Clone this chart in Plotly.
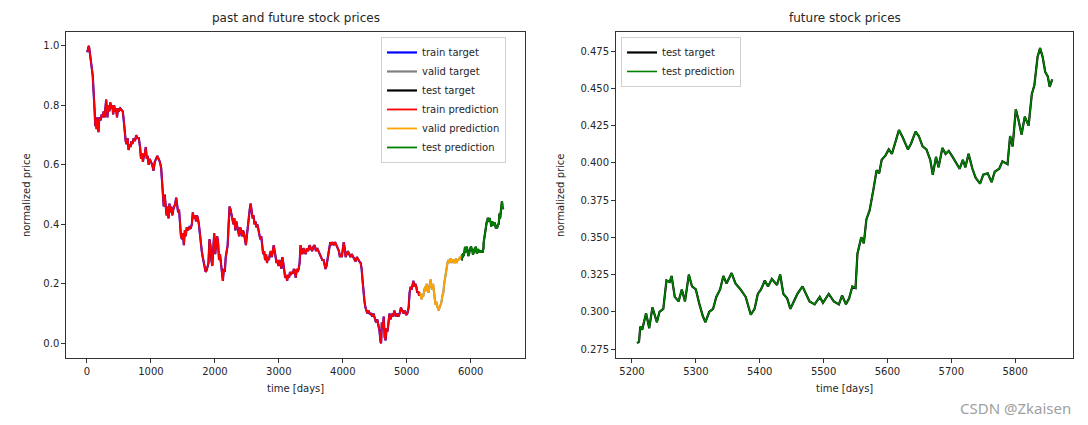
import plotly.graph_objects as go

# ---------------- data ----------------
train_days = [0, 10, 20, 30, 40, 55, 70, 80, 90, 100, 110, 120, 130, 140, 150, 160, 170, 180, 190, 200,
              215, 230, 245, 260, 275, 290, 300, 310, 320, 335, 350, 365, 380, 395, 410, 425, 440, 455, 470, 485,
              500, 520, 540, 560, 575, 590, 605, 620, 635, 650, 665, 680, 695, 710, 730, 750, 770, 790, 810, 830,
              845, 860, 875, 890, 905, 920, 935, 950, 965, 980, 1000, 1020, 1040, 1060, 1080, 1100, 1120, 1140, 1160, 1175,
              1190, 1200, 1215, 1230, 1245, 1260, 1275, 1290, 1305, 1320, 1335, 1350, 1365, 1380, 1395, 1410, 1425, 1440, 1455, 1470,
              1485, 1500, 1515, 1530, 1545, 1560, 1580, 1600, 1620, 1640, 1655, 1670, 1690, 1705, 1720, 1735, 1750, 1765, 1780, 1795,
              1810, 1825, 1840, 1855, 1870, 1885, 1900, 1915, 1930, 1945, 1960, 1975, 1990, 2005, 2020, 2035, 2050, 2065, 2080, 2095,
              2110, 2125, 2140, 2155, 2170, 2185, 2200, 2215, 2230, 2245, 2260, 2275, 2290, 2305, 2320, 2335, 2350, 2365, 2380, 2395,
              2410, 2425, 2440, 2455, 2470, 2485, 2500, 2515, 2530, 2545, 2560, 2575, 2590, 2605, 2620, 2635, 2650, 2665, 2680, 2695,
              2710, 2725, 2740, 2755, 2770, 2785, 2800, 2815, 2830, 2845, 2860, 2875, 2890, 2905, 2920, 2935, 2950, 2965, 2980, 2995,
              3010, 3025, 3040, 3055, 3070, 3085, 3100, 3115, 3130, 3145, 3160, 3175, 3190, 3205, 3220, 3235, 3250, 3265, 3280, 3295,
              3310, 3325, 3340, 3355, 3370, 3385, 3400, 3420, 3440, 3460, 3480, 3500, 3520, 3540, 3560, 3580, 3600, 3620, 3640, 3660,
              3680, 3700, 3715, 3730, 3745, 3760, 3775, 3790, 3805, 3820, 3840, 3860, 3880, 3900, 3920, 3940, 3955, 3970, 3985, 4000,
              4015, 4030, 4045, 4060, 4080, 4100, 4120, 4140, 4160, 4180, 4200, 4220, 4240, 4260, 4280, 4295, 4310, 4325, 4340, 4355,
              4370, 4385, 4400, 4420, 4440, 4460, 4480, 4500, 4520, 4540, 4560, 4575, 4590, 4600, 4610, 4625, 4640, 4655, 4670, 4685,
              4700, 4715, 4730, 4745, 4760, 4775, 4790, 4805, 4820, 4835, 4850, 4870, 4890, 4910, 4930, 4950, 4970, 4990, 5010, 5030,
              5045, 5060, 5075, 5090, 5105, 5120, 5135, 5150, 5165, 5180, 5195, 5207]
train_values = [0.985, 0.98, 0.995, 1.0, 0.985, 0.96, 0.93, 0.91, 0.90, 0.86, 0.83, 0.78, 0.73, 0.75, 0.72, 0.76, 0.74, 0.71, 0.75, 0.76,
                0.75, 0.77, 0.76, 0.78, 0.76, 0.80, 0.82, 0.79, 0.76, 0.80, 0.78, 0.81, 0.79, 0.80, 0.77, 0.80, 0.78, 0.79, 0.76, 0.79,
                0.78, 0.79, 0.785, 0.78, 0.75, 0.70, 0.68, 0.67, 0.69, 0.65, 0.67, 0.66, 0.68, 0.67, 0.69, 0.68, 0.70, 0.69, 0.69, 0.66,
                0.62, 0.64, 0.61, 0.63, 0.64, 0.66, 0.62, 0.63, 0.60, 0.62, 0.61, 0.60, 0.58, 0.61, 0.62, 0.63, 0.62, 0.61, 0.59, 0.55,
                0.50, 0.46, 0.50, 0.45, 0.43, 0.46, 0.42, 0.47, 0.44, 0.46, 0.43, 0.45, 0.46, 0.47, 0.49, 0.46, 0.44, 0.45, 0.40, 0.36,
                0.35, 0.37, 0.33, 0.38, 0.36, 0.39, 0.38, 0.39, 0.385, 0.40, 0.44, 0.42, 0.43, 0.41, 0.43, 0.42, 0.40, 0.36, 0.33, 0.31,
                0.29, 0.27, 0.25, 0.24, 0.245, 0.26, 0.27, 0.35, 0.33, 0.28, 0.26, 0.32, 0.37, 0.30, 0.33, 0.36, 0.34, 0.28, 0.30, 0.26,
                0.22, 0.21, 0.25, 0.24, 0.29, 0.31, 0.33, 0.40, 0.46, 0.45, 0.43, 0.41, 0.40, 0.42, 0.38, 0.41, 0.39, 0.37, 0.36, 0.39,
                0.38, 0.36, 0.38, 0.37, 0.35, 0.33, 0.36, 0.40, 0.42, 0.45, 0.47, 0.44, 0.42, 0.43, 0.40, 0.41, 0.39, 0.40, 0.38, 0.37,
                0.35, 0.36, 0.33, 0.30, 0.31, 0.28, 0.30, 0.27, 0.29, 0.28, 0.30, 0.31, 0.29, 0.32, 0.33, 0.31, 0.29, 0.27, 0.28, 0.26,
                0.28, 0.27, 0.25, 0.29, 0.27, 0.24, 0.22, 0.23, 0.21, 0.23, 0.22, 0.24, 0.23, 0.24, 0.235, 0.25, 0.24, 0.22, 0.25, 0.24,
                0.25, 0.27, 0.33, 0.31, 0.30, 0.32, 0.31, 0.30, 0.32, 0.31, 0.33, 0.32, 0.31, 0.325, 0.33, 0.31, 0.32, 0.31, 0.30, 0.29,
                0.28, 0.28, 0.26, 0.25, 0.26, 0.28, 0.30, 0.33, 0.34, 0.33, 0.34, 0.33, 0.34, 0.33, 0.32, 0.31, 0.29, 0.30, 0.29, 0.31,
                0.34, 0.32, 0.29, 0.30, 0.31, 0.30, 0.29, 0.30, 0.29, 0.28, 0.275, 0.29, 0.28, 0.275, 0.27, 0.25, 0.21, 0.16, 0.14, 0.12,
                0.11, 0.10, 0.11, 0.10, 0.10, 0.09, 0.10, 0.08, 0.07, 0.08, 0.06, 0.04, 0.005, 0.0, 0.07, 0.05, 0.09, 0.02, 0.01, 0.05,
                0.04, 0.07, 0.10, 0.08, 0.09, 0.10, 0.09, 0.11, 0.10, 0.09, 0.10, 0.09, 0.10, 0.12, 0.11, 0.10, 0.11, 0.095, 0.10, 0.12,
                0.17, 0.19, 0.18, 0.20, 0.21, 0.19, 0.20, 0.19, 0.17, 0.175, 0.16, 0.17]

valid_days = [5208, 5220, 5233, 5247, 5260, 5275, 5290, 5300, 5312, 5325, 5340, 5355, 5374, 5387, 5400, 5413, 5426, 5438,
              5450, 5464, 5478, 5490, 5500, 5510, 5520, 5532, 5545, 5558, 5572, 5586, 5600, 5612, 5624, 5637, 5650, 5663,
              5676, 5688, 5700, 5715, 5730, 5745, 5760, 5770, 5781, 5795, 5810, 5821, 5833, 5845, 5857]
valid_values = [0.17, 0.155, 0.148, 0.16, 0.16, 0.18, 0.19, 0.175, 0.20, 0.185, 0.17, 0.19, 0.215, 0.19, 0.18, 0.20, 0.16, 0.15,
                0.13, 0.14, 0.12, 0.125, 0.11, 0.12, 0.125, 0.13, 0.14, 0.16, 0.17, 0.20, 0.22, 0.24, 0.26, 0.27, 0.28, 0.27,
                0.28, 0.285, 0.27, 0.28, 0.28, 0.27, 0.275, 0.285, 0.27, 0.28, 0.28, 0.29, 0.29, 0.285, 0.295]

test_days = [5208, 5211, 5213, 5216, 5222, 5227, 5232, 5239, 5243, 5249, 5254, 5259, 5262, 5267, 5273, 5278, 5283, 5289,
             5294, 5300, 5305, 5311, 5315, 5321, 5327, 5332, 5338, 5343, 5348, 5356, 5362, 5370, 5378, 5386, 5392, 5397,
             5402, 5408, 5413, 5419, 5427, 5432, 5437, 5443, 5448, 5454, 5459, 5467, 5472, 5478, 5486, 5494, 5499, 5508,
             5516, 5524, 5529, 5535, 5540, 5545, 5550, 5553, 5559, 5563, 5567, 5572, 5578, 5583, 5587, 5591, 5597, 5602,
             5607, 5615, 5618, 5624, 5632, 5637, 5644, 5649, 5655, 5661, 5667, 5671, 5676, 5680, 5686, 5691, 5696, 5702,
             5707, 5713, 5718, 5722, 5727, 5733, 5738, 5745, 5750, 5757, 5763, 5768, 5775, 5780, 5788, 5792, 5796, 5801,
             5805, 5810, 5815, 5821, 5826, 5830, 5835, 5839, 5843, 5847, 5851, 5854, 5858]
test_values = [0.279, 0.280, 0.290, 0.288, 0.299, 0.289, 0.303, 0.293, 0.300, 0.302, 0.321, 0.320, 0.324, 0.310, 0.307, 0.315, 0.307, 0.325,
               0.317, 0.315, 0.306, 0.297, 0.293, 0.300, 0.302, 0.310, 0.315, 0.324, 0.319, 0.326, 0.319, 0.315, 0.310, 0.298, 0.302, 0.312,
               0.315, 0.321, 0.317, 0.322, 0.318, 0.325, 0.312, 0.309, 0.302, 0.307, 0.312, 0.317, 0.312, 0.307, 0.305, 0.310, 0.306, 0.312,
               0.307, 0.305, 0.311, 0.305, 0.309, 0.317, 0.316, 0.339, 0.350, 0.346, 0.362, 0.368, 0.382, 0.395, 0.393, 0.402, 0.405, 0.409,
               0.406, 0.418, 0.422, 0.417, 0.409, 0.413, 0.421, 0.418, 0.411, 0.409, 0.402, 0.392, 0.404, 0.397, 0.410, 0.406, 0.408, 0.404,
               0.400, 0.396, 0.402, 0.397, 0.406, 0.396, 0.390, 0.386, 0.392, 0.393, 0.387, 0.394, 0.396, 0.401, 0.399, 0.418, 0.411, 0.436,
               0.429, 0.419, 0.431, 0.425, 0.446, 0.452, 0.471, 0.477, 0.471, 0.461, 0.458, 0.451, 0.456]

# in the full-history panel the test block follows the validation block
valid_length = 650
test_days_full = [d + valid_length for d in test_days]

left_xticks = [0, 1000, 2000, 3000, 4000, 5000, 6000]
left_yticks = [0.0, 0.2, 0.4, 0.6, 0.8, 1.0]
right_xticks = [5200, 5300, 5400, 5500, 5600, 5700, 5800]
right_yticks = [0.275, 0.300, 0.325, 0.350, 0.375, 0.400, 0.425, 0.450, 0.475]

FONT = "DejaVu Sans"
TXT = "#262626"

fig = go.Figure()

def line(x, y, color, name, xa, ya, legend, width=1.5):
    fig.add_trace(go.Scatter(x=x, y=y, mode="lines", name=name,
                             line=dict(color=color, width=width),
                             xaxis=xa, yaxis=ya, legend=legend))

# left panel (matplotlib draw order: targets, then predictions)
line(train_days, train_values, "#0000ff", "train target", "x", "y", "legend", 2.2)
line(valid_days, valid_values, "#808080", "valid target", "x", "y", "legend", 2.2)
line(test_days_full, test_values, "#000000", "test target", "x", "y", "legend", 2.2)
line(train_days, train_values, "#ff0000", "train prediction", "x", "y", "legend", 1.8)
line(valid_days, valid_values, "#ffa500", "valid prediction", "x", "y", "legend", 1.8)
line(test_days_full, test_values, "#008000", "test prediction", "x", "y", "legend", 1.8)

# right panel
line(test_days, test_values, "#000000", "test target", "x2", "y2", "legend2", 2.2)
line(test_days, test_values, "#008000", "test prediction", "x2", "y2", "legend2", 1.6)

axis_common = dict(showline=True, linecolor="#333333", linewidth=1, mirror=True,
                   ticks="outside", ticklen=4, tickwidth=1, tickcolor="#333333",
                   showgrid=False, zeroline=False,
                   tickfont=dict(family=FONT, size=10, color=TXT))

fig.update_layout(
    width=1088, height=425,
    margin=dict(l=0, r=0, t=0, b=0),
    paper_bgcolor="white", plot_bgcolor="white",
    font=dict(family=FONT, size=10, color=TXT),
    xaxis=dict(domain=[0.0609, 0.4825], range=[-324, 6849], tickvals=left_xticks,
               title=dict(text="time [days]", standoff=8, font=dict(size=10)), anchor="y", **axis_common),
    yaxis=dict(domain=[0.157, 0.924], range=[-0.0505, 1.046], tickvals=left_yticks, tickformat=".1f",
               title=dict(text="normalized price", standoff=10, font=dict(size=10)), anchor="x", **axis_common),
    xaxis2=dict(domain=[0.5662, 0.9865], range=[5175, 5891], tickvals=right_xticks,
                title=dict(text="time [days]", standoff=8, font=dict(size=10)), anchor="y2", **axis_common),
    yaxis2=dict(domain=[0.157, 0.924], range=[0.2688, 0.4876], tickvals=right_yticks, tickformat=".3f",
                title=dict(text="normalized price", standoff=13, font=dict(size=10)), anchor="x2", **axis_common),
    legend=dict(x=0.3502, y=0.913, xanchor="left", yanchor="top",
                bgcolor="rgba(255,255,255,0.8)", bordercolor="#d0d0d0", borderwidth=1,
                font=dict(family=FONT, size=10, color=TXT), tracegroupgap=0, itemwidth=30),
    legend2=dict(x=0.5708, y=0.913, xanchor="left", yanchor="top",
                 bgcolor="rgba(255,255,255,0.8)", bordercolor="#d0d0d0", borderwidth=1,
                 font=dict(family=FONT, size=10, color=TXT), tracegroupgap=0, itemwidth=30),
    annotations=[
        dict(text="past and future stock prices", x=0.2717, y=1 - 18 / 425, xref="paper", yref="paper",
             xanchor="center", yanchor="middle", showarrow=False, font=dict(family=FONT, size=12, color=TXT)),
        dict(text="future stock prices", x=0.7764, y=1 - 18 / 425, xref="paper", yref="paper",
             xanchor="center", yanchor="middle", showarrow=False, font=dict(family=FONT, size=12, color=TXT)),
        dict(text="CSDN @Zkaisen", x=1073 / 1088, y=1 - 408 / 425, xref="paper", yref="paper",
             xanchor="right", yanchor="middle", showarrow=False,
             font=dict(family="Noto Sans", size=15, color="#a0a0a0")),
    ],
)

fig.write_html("out.html", config={"displayModeBar": False},
               post_script="document.body.style.margin='0';")
